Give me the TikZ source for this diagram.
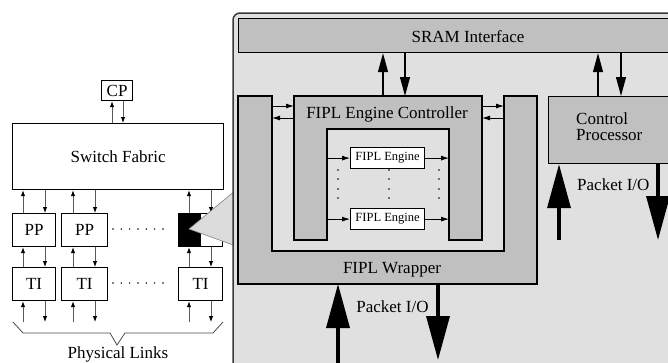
\documentclass[tikz,border=0pt]{standalone}
\usepackage{fontspec}
\setmainfont{Liberation Serif}
\newfontfamily\figserif{Liberation Serif}
\usetikzlibrary{arrows.meta}
\definecolor{bglt}{HTML}{E0E0E0}
\definecolor{boxg}{HTML}{C0C0C0}
\definecolor{trig}{HTML}{DCDCDC}
\begin{document}
\begin{tikzpicture}[x=1pt,y=-1pt,
  every node/.style={font=\figserif\fontsize{17}{16}\selectfont, inner sep=0pt},
  wbox/.style={draw, line width=1.2pt, fill=white, anchor=north west},
  gbox/.style={draw, line width=1.2pt, fill=boxg, anchor=north west},
  sarr/.style={line width=0.9pt, draw=gray!70!black, -{Latex[length=6pt,width=4.5pt,color=black]}},
  iarr/.style={line width=0.9pt, draw=black, -{Latex[length=8pt,width=5pt]}},
  marr/.style={line width=1.2pt, -{Triangle[length=19pt,width=10pt]}},
  barr/.style={line width=3.5pt, -{Triangle[length=44pt,width=23pt]}},
  ushape/.style={draw, line width=1.2pt, fill=boxg},
  lbl/.style={anchor=base}
]
\useasboundingbox (0,0) rectangle (668,362);
\clip (0,0) rectangle (668,362);
\fill[white] (0,0) rectangle (668,362);

% ---------- left: router overview ----------
\node[wbox, minimum width=31, minimum height=20] (cp) at (101,80) {CP};
\node[wbox, minimum width=211, minimum height=66] (sf) at (12,123) {Switch Fabric};
\node[wbox, minimum width=43, minimum height=33] (pp1) at (12,213) {PP};
\node[wbox, minimum width=46, minimum height=33] (pp2) at (61,213) {PP};
\node[wbox, minimum width=44, minimum height=33,
  path picture={\fill[black] (path picture bounding box.north west) rectangle (path picture bounding box.south);}] (pp3) at (178,213) {};
\node[wbox, minimum width=43, minimum height=33] (ti1) at (12,267) {TI};
\node[wbox, minimum width=46, minimum height=33] (ti2) at (61,267) {TI};
\node[wbox, minimum width=44, minimum height=33] (ti3) at (178,267) {TI};
\coordinate (linkbot) at (0,322);

\draw[sarr] (112,0 |- sf.north) -- (112,0 |- cp.south);
\draw[sarr] (123,0 |- cp.south) -- (123,0 |- sf.north);
\foreach \x/\n in {23/1,73/2,189/3}{
  \draw[sarr] (\x,0 |- pp\n.north) -- (\x,0 |- sf.south);
  \draw[sarr] (\x,0 |- ti\n.north) -- (\x,0 |- pp\n.south);
  \draw[sarr] (\x,0 |- linkbot) -- (\x,0 |- ti\n.south);
}
\foreach \x/\n in {45/1,95/2,211/3}{
  \draw[sarr] (\x,0 |- sf.south) -- (\x,0 |- pp\n.north);
  \draw[sarr] (\x,0 |- pp\n.south) -- (\x,0 |- ti\n.north);
  \draw[sarr] (\x,0 |- ti\n.south) -- (\x,0 |- linkbot);
}
\foreach \x in {113,121.3,129.6,138,146.3,154.6,163}{
  \fill (\x,229) circle (0.8);
  \fill (\x,283) circle (0.8);
}
\draw[gray!60!black, line width=0.8pt] (13,322) -- (23,333) -- (110,333) -- (117,345) -- (125,333) -- (213,333) -- (223,322);
\node[lbl] (plinks) at (118,358) {Physical Links};

% zoom triangle
\draw[gray, line width=0.6pt, fill=trig] (189,229) -- (236,190) -- (236,246) -- cycle;

% ---------- right: FIPL block ----------
\draw[line width=1.5pt, draw=gray!45!black, fill=bglt, rounded corners=7pt] (233,13) rectangle (720,420);

\node[gbox, minimum width=480, minimum height=34] (sram) at (238,18) {};
\node[lbl] (sramtxt) at (468,42) {SRAM Interface};

% FIPL Wrapper (U shape)
\draw[ushape] (238,96) -- (272,96) -- (272,251) -- (504,251) -- (504,96) -- (537,96) -- (537,284) -- (238,284) -- cycle;
\node[lbl] (wraptxt) at (392,273) {FIPL Wrapper};
% FIPL Engine Controller (inverted U)
\draw[ushape] (294,96) -- (482,96) -- (482,240) -- (449,240) -- (449,129) -- (327,129) -- (327,240) -- (294,240) -- cycle;
\node[lbl] (fectxt) at (387,118) {FIPL Engine Controller};

\coordinate (wIL) at (272,0);
\coordinate (fOL) at (294,0);
\coordinate (fOR) at (482,0);
\coordinate (wIR) at (504,0);
\coordinate (fIL) at (327,0);
\coordinate (fIR) at (449,0);
\coordinate (topU) at (0,96);
\coordinate (wbot) at (0,284);

\draw[iarr] (wIL |- 0,106) -- (fOL |- 0,106);
\draw[iarr] (fOL |- 0,118) -- (wIL |- 0,118);
\draw[iarr] (fOR |- 0,106) -- (wIR |- 0,106);
\draw[iarr] (wIR |- 0,118) -- (fOR |- 0,118);

\node[wbox, font=\figserif\fontsize{12.5}{12}\selectfont, minimum width=74, minimum height=21] (eng1) at (350,147) {FIPL Engine};
\node[wbox, font=\figserif\fontsize{12.5}{12}\selectfont, minimum width=74, minimum height=21] (eng2) at (350,208) {FIPL Engine};
\draw[iarr] (fIL |- eng1.west) -- (eng1.west);
\draw[iarr] (eng1.east) -- (fIR |- eng1.east);
\draw[iarr] (fIL |- eng2.west) -- (eng2.west);
\draw[iarr] (eng2.east) -- (fIR |- eng2.east);
\foreach \x in {338,389,439}{
  \foreach \y in {170,179,189,198}{
    \fill (\x,\y) circle (0.8);
  }
}

% Control Processor
\node[gbox, minimum width=140, minimum height=67] (ctl) at (548,96) {};
\node[anchor=base west] (ctl1) at (576,124) {Control};
\node[anchor=base west] (ctl2) at (576,140) {Processor};

\draw[marr] (383,0 |- topU) -- (383,0 |- sram.south);
\draw[marr] (405,0 |- sram.south) -- (405,0 |- topU);
\draw[marr] (598,0 |- ctl.north) -- (598,0 |- sram.south);
\draw[marr] (621,0 |- sram.south) -- (621,0 |- ctl.north);

% Packet I/O
\coordinate (cpio) at (0,240);
\coordinate (wioend) at (0,360);
\draw[barr] (559,0 |- cpio) -- (559,0 |- ctl.south);
\draw[barr] (658,0 |- ctl.south) -- (658,0 |- cpio);
\node[anchor=base west] (cptxt) at (577,190) {Packet I/O};
\draw[barr] (338,372) -- (338,0 |- wbot);
\draw[barr] (438,0 |- wbot) -- (438,0 |- wioend);
\node[lbl] (wptxt) at (392.5,312) {Packet I/O};
\end{tikzpicture}
\end{document}
